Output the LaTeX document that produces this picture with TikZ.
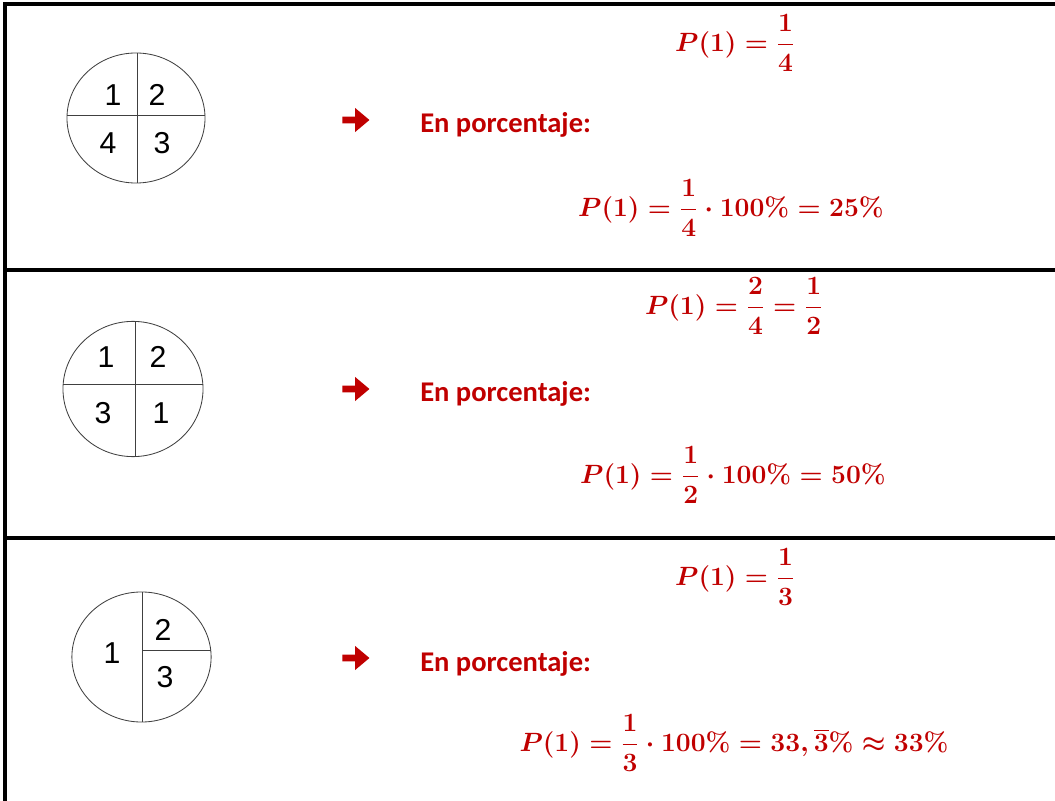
\RequirePackage{fix-cm}
\documentclass[tikz,border=0pt]{standalone}
\usepackage{amsmath}
\usepackage[no-math]{fontspec}
\usepackage{xcolor}
\usepackage{tikz}
\usetikzlibrary{shapes.arrows}
\setmainfont{Carlito}
\newfontfamily\piefont{Liberation Sans}
\definecolor{darkred}{HTML}{C00000}

\begin{document}
\begin{tikzpicture}[
  x=0.025cm, y=-0.025cm,
  rule/.style={line width=0.1cm},
  pie/.style={draw=black!75, line width=0.6pt},
  digit/.style={font=\piefont\fontsize{21.5}{22}\selectfont, inner sep=0pt},
  pointer/.style={single arrow, fill=darkred, draw=none, inner sep=0.075cm,
    minimum height=0.675cm, single arrow head extend=0.22cm,
    single arrow tip angle=80},
  heading/.style={text=darkred, font=\bfseries\fontsize{20.3}{22}\selectfont,
    anchor=base west, inner sep=0pt},
  formula/.style={text=darkred, font=\fontsize{18.8}{22}\selectfont\boldmath, inner sep=0pt}
 ]
\useasboundingbox (0,0) rectangle (1055,801);

\draw[rule] (5,4) -- (1055,4);
\draw[rule] (5,270) -- (1055,270);
\draw[rule] (5,538) -- (1055,538);
\draw[rule] (5,2) -- (5,801);

\draw[pie] (136,118) ellipse [x radius=1.725cm, y radius=1.625cm];
\draw[pie] (137,53) -- (137,183);
\draw[pie] (67,115) -- (205,115);
\node[digit] (a1) at (113,95) {1};
\node[digit] (a2) at (157,95) {2};
\node[digit] (a4) at (108,143) {4};
\node[digit] (a3) at (162,143) {3};

\draw[pie] (133,389) ellipse [x radius=1.75cm, y radius=1.69cm];
\draw[pie] (135,322) -- (135,457);
\draw[pie] (63,384) -- (203,384);
\node[digit] (b1) at (106,357) {1};
\node[digit] (b2) at (158,357) {2};
\node[digit] (b3) at (103,413) {3};
\node[digit] (b4) at (161,413) {1};

\draw[pie] (141.5,657) ellipse [x radius=1.74cm, y radius=1.625cm];
\draw[pie] (142,592) -- (142,722);
\draw[pie] (142,650) -- (211,650);
\node[digit] (c1) at (112,653) {1};
\node[digit] (c2) at (163,630) {2};
\node[digit] (c3) at (165,677) {3};

\node[pointer] (p1) at (354,120) {};
\node[pointer] (p2) at (354,389) {};
\node[pointer] (p3) at (354,658) {};

\node[heading] (h1) at (420,133) {En porcentaje:};
\node[heading] (h2) at (420,402) {En porcentaje:};
\node[heading] (h3) at (420,671) {En porcentaje:};

\node[formula] (f1) at (735,43) {$\displaystyle P(1)=\frac{1}{4}$};
\node[formula] (g1) at (731,208) {$\displaystyle P(1)=\frac{1}{4}\cdot 100\%=25\%$};
\node[formula] (f2) at (734,306) {$\displaystyle P(1)=\frac{2}{4}=\frac{1}{2}$};
\node[formula] (g2) at (733,475) {$\displaystyle P(1)=\frac{1}{2}\cdot 100\%=50\%$};
\node[formula] (f3) at (735,577) {$\displaystyle P(1)=\frac{1}{3}$};
\node[formula] (g3) at (734,743) {$\displaystyle P(1)=\frac{1}{3}\cdot 100\%=33,\overline{3}\%\approx 33\%$};
\end{tikzpicture}
\end{document}
